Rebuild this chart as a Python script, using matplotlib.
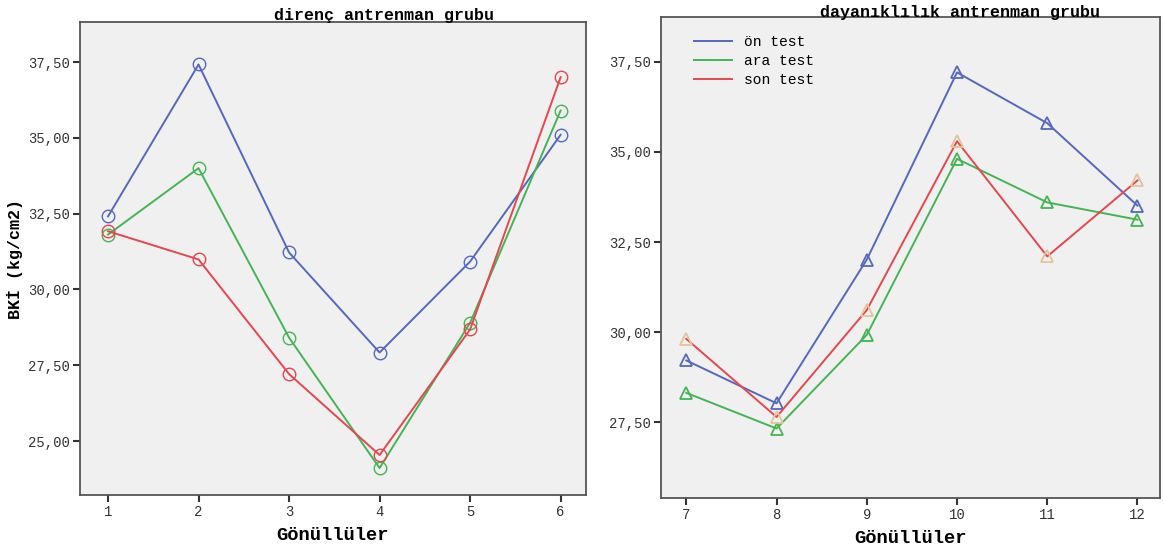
import matplotlib
matplotlib.use("Agg")
import matplotlib.pyplot as plt
from matplotlib.ticker import FuncFormatter

# values
grp1_x = [1, 2, 3, 4, 5, 6]
grp1_on = [32.41, 37.42, 31.22, 27.92, 30.92, 35.10]
grp1_ara = [31.81, 34.00, 28.41, 24.11, 28.90, 35.90]
grp1_son = [31.92, 30.99, 27.21, 24.54, 28.68, 37.00]

grp2_x = [7, 8, 9, 10, 11, 12]
grp2_on = [29.21, 28.02, 32.01, 37.21, 35.80, 33.51]
grp2_ara = [28.31, 27.32, 29.92, 34.81, 33.60, 33.12]
grp2_son = [29.81, 27.64, 30.61, 35.30, 32.10, 34.21]

series_names = ["ön test", "ara test", "son test"]
yticks = [25.0, 27.5, 30.0, 32.5, 35.0, 37.5]

blue = "#5468bd"
green = "#44b553"
red = "#e6464e"
tan = "#e3c49a"

mono = "Liberation Mono"
comma = FuncFormatter(lambda v, p: f"{v:.2f}".replace(".", ","))

fig = plt.figure(figsize=(11.64, 5.51), dpi=100)
ax1 = fig.add_axes([0.0687, 0.1016, 0.4347, 0.8584])
ax2 = fig.add_axes([0.5679, 0.0962, 0.4287, 0.873])

# left: direnç
ax1.plot(grp1_x, grp1_on, "-o", color=blue, mfc="none", ms=9, lw=1.4, label=series_names[0])
ax1.plot(grp1_x, grp1_ara, "-o", color=green, mfc="none", ms=9, lw=1.4, label=series_names[1])
ax1.plot(grp1_x, grp1_son, "-o", color=red, mfc="none", ms=9, lw=1.4, label=series_names[2])
ax1.set_xlim(0.69, 6.28)
ax1.set_ylim(23.22, 38.82)

# right: dayanıklılık
ax2.plot(grp2_x, grp2_on, "-^", color=blue, mfc="none", ms=8, lw=1.4, mew=1.3)
ax2.plot(grp2_x, grp2_ara, "-^", color=green, mfc="none", ms=8, lw=1.4, mew=1.3)
ax2.plot(grp2_x, grp2_son, "-^", color=red, mec=tan, mfc="none", ms=8, lw=1.4, mew=1.3)
ax2.set_xlim(6.72, 12.25)
ax2.set_ylim(25.39, 38.75)

h1, = ax2.plot([], [], color=blue, lw=1.4)
h2, = ax2.plot([], [], color=green, lw=1.4)
h3, = ax2.plot([], [], color=red, lw=1.4)
leg = ax2.legend([h1, h2, h3], series_names, loc="upper left", frameon=False,
                 prop={"family": mono, "size": 10.5}, handlelength=2.6,
                 labelspacing=0.35, bbox_to_anchor=(0.04, 0.99))

for ax, xs in [(ax1, grp1_x), (ax2, grp2_x)]:
    ax.set_facecolor("#f0f0f0")
    ax.set_xticks(xs)
    ax.set_yticks([t for t in yticks if ax.get_ylim()[0] < t < ax.get_ylim()[1]])
    ax.yaxis.set_major_formatter(comma)
    ax.tick_params(direction="out", length=5, width=1.5, colors="#333333",
                   labelsize=10, pad=2)
    for lab in ax.get_xticklabels() + ax.get_yticklabels():
        lab.set_family(mono)
    for s in ["left", "bottom", "top", "right"]:
        ax.spines[s].set_color("#555555")
        ax.spines[s].set_linewidth(1.3)
    ax.set_xlabel("Gönüllüler", family=mono, fontweight="bold", fontsize=13.5, labelpad=6)

ax1.set_ylabel("BKİ (kg/cm2)", family=mono, fontweight="bold", fontsize=12, labelpad=4)

ax1.text(0.60, 0.998, "direnç antrenman grubu", transform=ax1.transAxes, ha="center",
         va="bottom", family=mono, fontweight="bold", fontsize=12)
ax2.text(0.60, 0.993, "dayanıklılık antrenman grubu", transform=ax2.transAxes, ha="center",
         va="bottom", family=mono, fontweight="bold", fontsize=12)

fig.savefig("out.png", dpi=100, facecolor="white")
